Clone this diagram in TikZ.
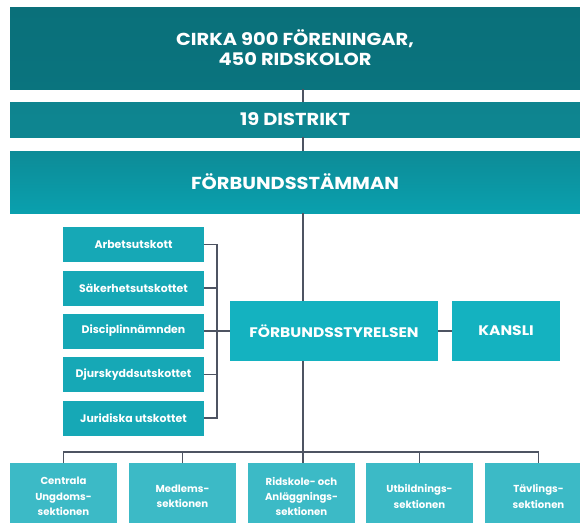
\documentclass[tikz,border=0pt]{standalone}
\usepackage{fontspec}
\setmainfont{Poppins}
\newfontfamily\widefont{Poppins}[FakeStretch=1.12]
\usepackage{xcolor}
\usepackage{tikz}

\definecolor{tealdark}{RGB}{10,112,122}
\definecolor{tealmid}{RGB}{14,134,145}
\definecolor{teallight}{RGB}{10,160,174}
\definecolor{tealbox}{RGB}{22,168,182}
\definecolor{tealboard}{RGB}{20,178,192}
\definecolor{tealsec}{RGB}{60,186,198}
\definecolor{linegray}{RGB}{78,84,98}

\tikzset{
  band/.style={inner sep=0.75pt, minimum width=427.5pt, text=white, font=\widefont\bfseries\fontsize{13}{15}\selectfont, align=center},
  utskott/.style={fill=tealbox, inner sep=0.75pt, minimum width=105.75pt, minimum height=26.25pt, text=white, font=\bfseries\fontsize{8.2}{10}\selectfont},
  board/.style={fill=tealboard, inner sep=0.75pt, minimum height=45pt, text=white, font=\widefont\bfseries\fontsize{10.4}{12}\selectfont},
  sektion/.style={fill=tealsec, inner sep=0.75pt, minimum width=80.25pt, minimum height=50.25pt, text=white, align=center, font=\bfseries\fontsize{7.6}{11.5}\selectfont},
  conn/.style={draw=linegray, line width=0.8pt}
}

\begin{document}
\begin{tikzpicture}[x=0.75pt,y=0.75pt,yscale=-1,xscale=1]
\useasboundingbox (0,0) rectangle (580,522);

%Shape: top bands
\node [band, minimum height=61.5pt, top color=tealdark, bottom color=tealdark!92!teallight] (foreningar) at (295,48) {CIRKA 900 FÖRENINGAR,\\450 RIDSKOLOR};
\node [band, minimum height=26.25pt, top color=tealmid!90!tealdark, bottom color=tealmid] (distrikt) at (295,119.5) {19 DISTRIKT};
\node [band, minimum height=46.5pt, top color=tealmid!80!teallight, bottom color=teallight] (stamman) at (295,182) {FÖRBUNDSSTÄMMAN};

%Shape: utskott
\node [utskott] (arbets) at (133.5,244.5) {Arbetsutskott};
\node [utskott] (sakerhet) at (133.5,288) {Säkerhetsutskottet};
\node [utskott] (disciplin) at (133.5,331) {Disciplinnämnden};
\node [utskott] (djurskydd) at (133.5,374.5) {Djurskyddsutskottet};
\node [utskott] (juridiska) at (133.5,418) {Juridiska utskottet};

%Shape: styrelse and kansli
\node [board, minimum width=156pt] (styrelse) at (334,331) {FÖRBUNDSSTYRELSEN};
\node [board, minimum width=81pt] (kansli) at (506,331) {KANSLI};

%Shape: sektioner
\node [sektion] (ungdom) at (63.5,496.5) {Centrala\\Ungdoms-\\sektionen};
\node [sektion] (medlem) at (182.5,496.5) {Medlems-\\sektionen};
\node [sektion] (ridskole) at (301.5,496.5) {Ridskole- och\\Anläggnings-\\sektionen};
\node [sektion] (utbildning) at (419.5,496.5) {Utbildnings-\\sektionen};
\node [sektion] (tavling) at (538.5,496.5) {Tävlings-\\sektionen};

\coordinate (spine) at (303,0);
\coordinate (brack) at (217,0);
\coordinate (bus) at (303,452);

%Straight Lines: spine
\draw [conn] (foreningar.south -| spine) -- (distrikt.north -| spine);
\draw [conn] (distrikt.south -| spine) -- (stamman.north -| spine);
\draw [conn] (stamman.south -| spine) -- (styrelse.north -| spine);
\draw [conn] (styrelse.south -| spine) -- (ridskole.north -| spine);
%Straight Lines: bracket
\draw [conn] (arbets.east) -- (arbets.east -| brack) -- (juridiska.east -| brack) -- (juridiska.east);
\draw [conn] (sakerhet.east) -- (sakerhet.east -| brack);
\draw [conn] (disciplin.east) -- (styrelse.west);
\draw [conn] (djurskydd.east) -- (djurskydd.east -| brack);
\draw [conn] (styrelse.east) -- (kansli.west);
%Straight Lines: bus
\draw [conn] (ungdom.north) |- (bus) -| (tavling.north);
\draw [conn] (medlem.north) -- (medlem.north |- bus);
\draw [conn] (utbildning.north) -- (utbildning.north |- bus);
\end{tikzpicture}
\end{document}
